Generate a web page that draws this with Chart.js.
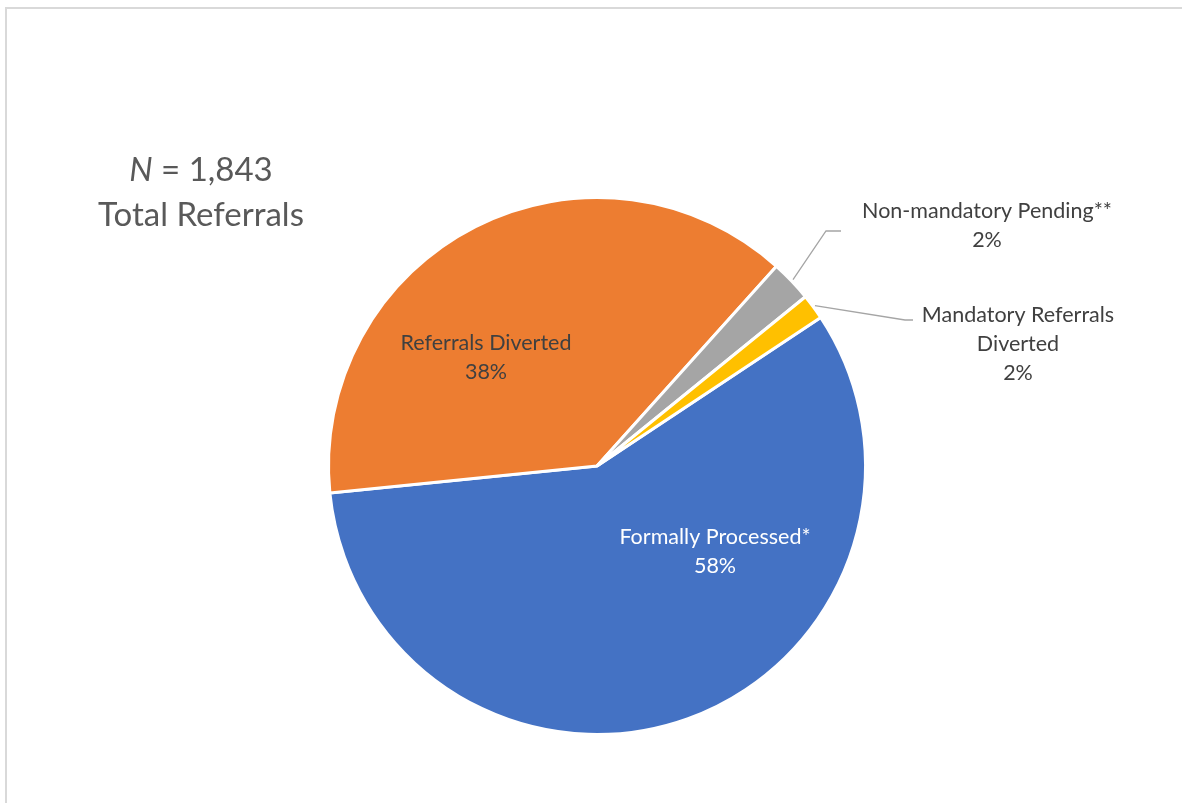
<!DOCTYPE html>
<html>
<head>
<meta charset="utf-8">
<style>
  html, body { margin: 0; padding: 0; background: #fff; }
  #frame { position: absolute; left: 5px; top: 7px; width: 1200px; height: 820px;
           border-top: 2px solid #d9d9d9; border-left: 2px solid #d9d9d9; box-sizing: border-box; }
  #wrap { position: absolute; left: 0; top: 0; width: 1182px; height: 803px; }
</style>
<script src="https://cdn.jsdelivr.net/npm/chart.js@4.4.1/dist/chart.umd.min.js"></script>
</head>
<body>
<div id="frame"></div>
<div id="wrap"><canvas id="chart"></canvas></div>
<script>
// referral outcomes (counts out of N = 1,843)
const categories = ["Formally Processed*", "Referrals Diverted", "Non-mandatory Pending**", "Mandatory Referrals Diverted"];
const counts = [1064, 705, 46, 28];
const colors = ["#4472C4", "#ED7D31", "#A5A5A5", "#FFC000"];
const labelLines = [
  ["Formally Processed*"],
  ["Referrals Diverted"],
  ["Non-mandatory Pending**"],
  ["Mandatory Referrals", "Diverted"]
];
const total = counts.reduce((a, b) => a + b, 0);

const FONT = "Lato, 'Open Sans', sans-serif";

// label placement: inside labels as offset from centre, outside labels with leader lines
const labelPlace = [
  { inside: true, dx: 118, dy: 86, color: "#ffffff" },
  { inside: true, dx: -111, dy: -108, color: "#404040" },
  { inside: false, elbow: [826, 231], end: [841, 231], text: [987, 211], color: "#404040" },
  { inside: false, elbow: [905, 320], end: [913, 320], text: [1018, 315], color: "#404040" }
];

const pieLabels = {
  id: "pieLabels",
  afterDatasetsDraw(chart) {
    const ctx = chart.ctx;
    const meta = chart.getDatasetMeta(0);
    ctx.save();
    ctx.font = "21.5px " + FONT;
    ctx.textAlign = "center";
    ctx.textBaseline = "middle";
    const lh = 29;
    meta.data.forEach((arc, i) => {
      const p = labelPlace[i];
      const pct = Math.round(counts[i] / total * 100) + "%";
      const lines = labelLines[i].concat([pct]);
      let tx, ty;
      if (p.inside) {
        tx = arc.x + p.dx;
        ty = arc.y + p.dy - (lines.length - 1) * lh / 2;
      } else {
        const mid = (arc.startAngle + arc.endAngle) / 2;
        const r = arc.outerRadius + 2;
        const sx = arc.x + Math.cos(mid) * r;
        const sy = arc.y + Math.sin(mid) * r;
        ctx.strokeStyle = "#A5A5A5";
        ctx.lineWidth = 1.3;
        ctx.beginPath();
        ctx.moveTo(sx, sy);
        ctx.lineTo(p.elbow[0], p.elbow[1]);
        ctx.lineTo(p.end[0], p.end[1]);
        ctx.stroke();
        tx = p.text[0];
        ty = p.text[1];
      }
      ctx.fillStyle = p.color;
      lines.forEach((t, k) => ctx.fillText(t, tx, ty + k * lh));
    });

    // N annotation
    ctx.fillStyle = "#595959";
    ctx.textAlign = "left";
    ctx.font = "italic 33px " + FONT;
    const nW = ctx.measureText("N").width;
    ctx.font = "33px " + FONT;
    const rest = " = 1,843";
    const rW = ctx.measureText(rest).width;
    const cx = 201;
    let x0 = cx - (nW + rW) / 2;
    ctx.font = "italic 33px " + FONT;
    ctx.fillText("N", x0, 170);
    ctx.font = "33px " + FONT;
    ctx.fillText(rest, x0 + nW, 170);
    ctx.textAlign = "center";
    ctx.fillText("Total Referrals", 201, 215);
    ctx.restore();
  }
};

new Chart(document.getElementById("chart"), {
  type: "pie",
  data: {
    labels: categories,
    datasets: [{
      data: counts,
      backgroundColor: colors,
      borderColor: "#ffffff",
      borderWidth: 3
    }]
  },
  options: {
    responsive: true,
    maintainAspectRatio: false,
    animation: false,
    rotation: 56.4,
    layout: { padding: { left: 327, right: 315, top: 196, bottom: 67 } },
    plugins: {
      legend: { display: false },
      tooltip: { enabled: false },
      title: { display: false }
    }
  },
  plugins: [pieLabels]
});
</script>
</body>
</html>
